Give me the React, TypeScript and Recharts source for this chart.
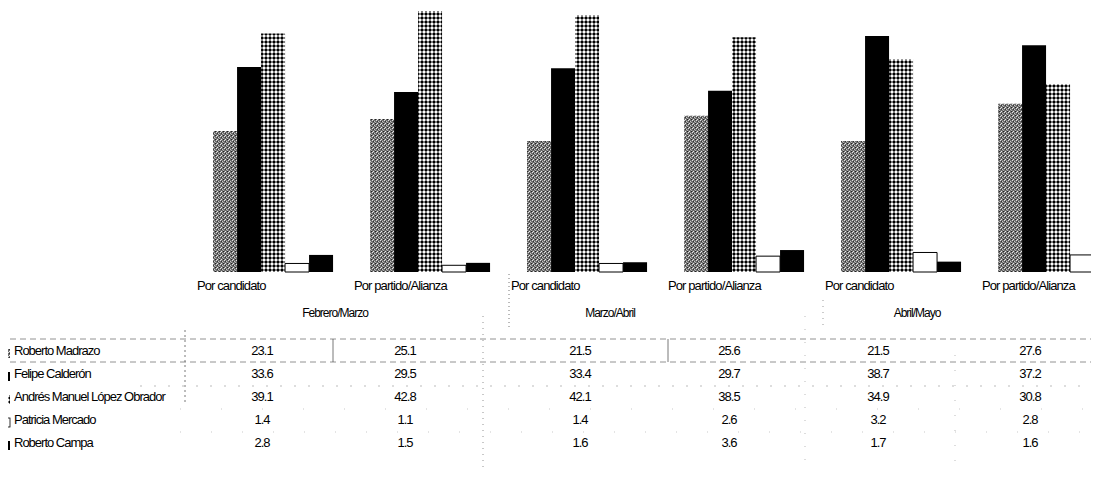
import React from 'react';
import { BarChart, Bar, XAxis, YAxis } from 'recharts';

const categories = ['Por candidato', 'Por partido/Alianza', 'Por candidato', 'Por partido/Alianza', 'Por candidato', 'Por partido/Alianza'];
const periods = ['Febrero/Marzo', 'Marzo/Abril', 'Abril/Mayo'];
const seriesNames = ['Roberto Madrazo', 'Felipe Calderón', 'Andrés Manuel López Obrador', 'Patricia Mercado', 'Roberto Campa'];
const madrazo = [23.1, 25.1, 21.5, 25.6, 21.5, 27.6];
const calderon = [33.6, 29.5, 33.4, 29.7, 38.7, 37.2];
const lopezObrador = [39.1, 42.8, 42.1, 38.5, 34.9, 30.8];
const mercado = [1.4, 1.1, 1.4, 2.6, 3.2, 2.8];
const campa = [2.8, 1.5, 1.6, 3.6, 1.7, 1.6];

const seriesValues = [madrazo, calderon, lopezObrador, mercado, campa];
const seriesKeys = ['madrazo', 'calderon', 'lopezObrador', 'mercado', 'campa'];
const seriesFills = ['url(#pMadrazo)', '#000', 'url(#pAmlo)', '#fff', '#000'];

const data = categories.map((c, i) => ({
  key: 'c' + i,
  cat: c,
  madrazo: madrazo[i],
  calderon: calderon[i],
  lopezObrador: lopezObrador[i],
  mercado: mercado[i],
  campa: campa[i],
}));

const W = 1140;
const H = 495;
const PLOT_LEFT = 195;
const PLOT_RIGHT = 3;
const BASE_Y = 272;
const X_AXIS_H = 30;
const BAND = (W - PLOT_LEFT - PLOT_RIGHT) / categories.length;
const FONT = "'Liberation Sans Narrow', 'Arial Narrow', 'Liberation Sans', Arial, sans-serif";

// table layout
const colCenters = [262, 405, 580, 729, 878, 1030];
const periodCenters = [335, 610, 917];
const rowYs = [351, 374, 397, 420, 443];
const PERIOD_Y = 313;

const CatTick = (props: any) => {
  const { x, payload } = props;
  const idx = payload.index;
  const left = x - BAND / 2 + 2;
  return (
    <text x={left} y={BASE_Y + 18} fontFamily={FONT} fontSize={13} fill="#000" letterSpacing={-0.9}>
      {categories[idx]}
    </text>
  );
};

const fmt = (v: number) => v.toFixed(1);

const Table = () => (
  <svg width={W} height={H} style={{ position: 'absolute', left: 0, top: 0, pointerEvents: 'none' }}>
    {periods.map((p, i) => (
      <text key={p} x={periodCenters[i]} y={PERIOD_Y + 4} textAnchor="middle" fontFamily={FONT} fontSize={12} letterSpacing={-1} fill="#000">
        {p}
      </text>
    ))}
    <line x1={509} y1={274} x2={509} y2={330} stroke="#777" strokeDasharray="1 3" />
    <line x1={823} y1={300} x2={823} y2={330} stroke="#999" strokeDasharray="1 5" />
    <line x1={0} y1={339} x2={1099} y2={339} stroke="#777" strokeDasharray="6 4" strokeWidth={0.8} />
    <line x1={0} y1={362} x2={1099} y2={362} stroke="#777" strokeDasharray="6 4" strokeWidth={0.8} />
    <line x1={140} y1={386} x2={1099} y2={386} stroke="#aaa" strokeDasharray="2 12" strokeWidth={0.8} />
    <line x1={180} y1={409} x2={1099} y2={409} stroke="#bbb" strokeDasharray="1 40" strokeWidth={0.8} />
    <line x1={180} y1={432} x2={1099} y2={432} stroke="#bbb" strokeDasharray="1 30" strokeWidth={0.8} />
    <line x1={185} y1={330} x2={185} y2={405} stroke="#555" strokeDasharray="2 3" strokeWidth={0.8} />
    <line x1={333} y1={339} x2={333} y2={362} stroke="#555" strokeWidth={0.8} />
    <line x1={483} y1={316} x2={483} y2={470} stroke="#777" strokeDasharray="1 5" strokeWidth={0.8} />
    <line x1={668} y1={339} x2={668} y2={362} stroke="#555" strokeWidth={0.8} />
    <line x1={805} y1={316} x2={805} y2={470} stroke="#aaa" strokeDasharray="1 12" strokeWidth={0.8} />
    <line x1={955} y1={355} x2={955} y2={470} stroke="#aaa" strokeDasharray="1 14" strokeWidth={0.8} />
    {seriesNames.map((name, r) => (
      <g key={name}>
        <rect x={3} y={rowYs[r] - 2} width={7} height={9} fill={seriesFills[r]} stroke={r === 3 ? '#000' : 'none'} strokeWidth={0.8} />
        <text x={14} y={rowYs[r] + 4} fontFamily={FONT} fontSize={13} letterSpacing={-1} fill="#000">
          {name}
        </text>
        {seriesValues[r].map((v, c) => (
          <text key={c} x={colCenters[c]} y={rowYs[r] + 4} textAnchor="middle" fontFamily={FONT} fontSize={13} letterSpacing={-1} fill="#000">
            {fmt(v)}
          </text>
        ))}
      </g>
    ))}
  </svg>
);

export default function App() {
  return (
    <div style={{ position: 'relative', width: 1099, height: 495, overflow: 'hidden', margin: -8, background: '#fff' }}>
      <div style={{ position: 'absolute', left: 0, top: 0 }}>
        <BarChart
          width={W}
          height={H}
          data={data}
          margin={{ top: 0, left: PLOT_LEFT, right: PLOT_RIGHT, bottom: H - BASE_Y - X_AXIS_H }}
          barGap={0}
          barCategoryGap="11.5%"
        >
          <defs>
            <pattern id="pMadrazo" width="4" height="4" patternUnits="userSpaceOnUse">
              <rect width="4" height="4" fill="#6e6e6e" />
              <rect x="0" y="0" width="1" height="1" fill="#e0e0e0" />
              <rect x="2" y="1" width="1" height="1" fill="#c8c8c8" />
              <rect x="1" y="3" width="1" height="1" fill="#e8e8e8" />
              <rect x="3" y="2" width="1" height="1" fill="#b0b0b0" />
              <rect x="1" y="1" width="1" height="1" fill="#333" />
              <rect x="3" y="3" width="1" height="1" fill="#222" />
            </pattern>
            <pattern id="pAmlo" width="4" height="4" patternUnits="userSpaceOnUse">
              <rect width="4" height="4" fill="#fff" />
              <rect x="0.5" y="1" width="3" height="2" fill="#000" />
              <rect x="1.5" y="0" width="1" height="4" fill="#000" />
            </pattern>
          </defs>
          <XAxis dataKey="key" axisLine={false} tickLine={false} interval={0} height={X_AXIS_H} tick={<CatTick />} />
          <YAxis hide domain={[0, 44.6]} />
          {seriesKeys.map((k, i) => (
            <Bar
              key={k}
              dataKey={k}
              fill={seriesFills[i]}
              stroke={i === 3 ? '#000' : 'none'}
              strokeWidth={i === 3 ? 1 : 0}
              isAnimationActive={false}
            />
          ))}
        </BarChart>
      </div>
      <Table />
    </div>
  );
}
